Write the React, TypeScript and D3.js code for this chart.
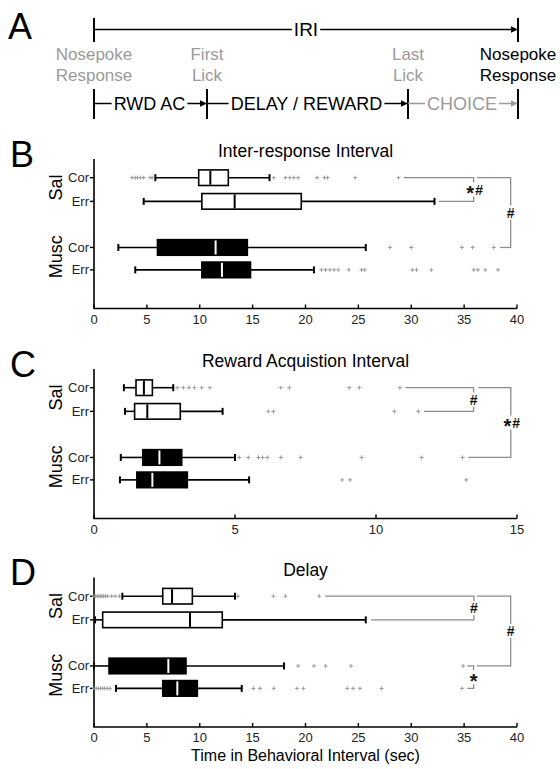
import React from "react";
import * as d3 from "d3";

const W = 560;
const H = 769;
const FONT = "'Liberation Sans', Arial, sans-serif";
const GRAY = "#9a9a9a";

// timeline (panel A)
const eventTop = ["Nosepoke", "First", "Last", "Nosepoke"];
const eventBottom = ["Response", "Lick", "Lick", "Response"];
const eventColor = [GRAY, GRAY, GRAY, "#000"];
const eventFrac = [0, 0.2665, 0.7406, 1];
const segLabels = ["RWD AC", "DELAY / REWARD", "CHOICE"];
const segColor = ["#000", "#000", GRAY];

// boxplot rows
const rowNames = ["Cor", "Err", "Cor", "Err"];
const groupNames = ["Sal", "Musc"];
const groupRows = [[0, 1], [2, 3]];
const rowPos = [0.75, 1.7, 3.55, 4.45];
const rowFill = ["white", "white", "black", "black"];

// [low whisker, q1, median, q3, high whisker]
const iriBoxes = [
  [5.8, 9.9, 11.0, 12.7, 16.6],
  [4.7, 10.2, 13.3, 19.6, 32.2],
  [2.3, 6.0, 11.5, 14.5, 25.7],
  [3.9, 10.2, 12.1, 14.8, 20.8],
];
const iriOutliers = [
  [3.6, 3.9, 4.1, 4.4, 4.7, 5.3, 5.5, 17.0, 18.1, 18.5, 18.9, 19.3, 21.1, 21.8, 22.1, 24.7, 28.8],
  [],
  [28.0, 30.0, 34.8, 35.8, 37.8],
  [21.5, 21.9, 22.3, 22.7, 23.1, 24.1, 25.3, 25.6, 30.1, 30.5, 31.9, 35.9, 36.3, 37.0, 38.2],
];
const iriBrackets = [
  { a: 0, b: 1, xa: 29.3, xb: 32.6, xv: 35.9, label: "*#" },
  { a: 0, b: 2, xa: 36.2, xb: 38.4, xv: 39.4, label: "#" },
];

const raiBoxes = [
  [1.06, 1.49, 1.77, 2.07, 2.81],
  [1.1, 1.44, 1.89, 3.06, 4.56],
  [0.95, 1.73, 2.32, 3.11, 5.0],
  [0.92, 1.52, 2.07, 3.31, 5.5],
];
const raiOutliers = [
  [2.95, 3.17, 3.37, 3.56, 3.82, 4.11, 6.62, 6.93, 9.05, 9.41, 10.85],
  [6.18, 6.36, 10.65, 11.5],
  [5.15, 5.47, 5.83, 5.98, 6.15, 6.63, 7.33, 9.49, 11.62, 13.07],
  [8.8, 9.08, 13.2],
];
const raiBrackets = [
  { a: 0, b: 1, xa: 11.05, xb: 11.7, xv: 13.46, label: "#" },
  { a: 0, b: 2, xa: 13.63, xb: 13.27, xv: 14.78, label: "*#" },
];

const delayBoxes = [
  [2.68, 6.5, 7.38, 9.3, 13.33],
  [0.1, 0.82, 9.08, 12.13, 25.7],
  [0.0, 1.42, 7.03, 8.7, 17.97],
  [2.08, 6.5, 7.88, 9.77, 13.97],
];
const delayOutliers = [
  [0.0, 0.15, 0.3, 0.45, 0.6, 0.75, 0.9, 1.1, 1.3, 1.67, 2.0, 2.4, 13.6, 16.96, 18.1, 21.3],
  [],
  [19.3, 20.8, 21.9, 24.3, 34.9],
  [0.0, 0.2, 0.4, 0.6, 0.8, 1.0, 1.25, 1.5, 15.07, 15.7, 17.0, 19.2, 19.8, 23.95, 24.5, 25.15, 27.2, 34.8],
];
const delayBrackets = [
  { a: 0, b: 1, xa: 21.85, xb: 26.2, xv: 35.93, label: "#" },
  { a: 0, b: 2, xa: 36.2, xb: 36.2, xv: 39.4, label: "#" },
  { a: 2, b: 3, xa: 35.3, xb: 35.3, xv: 35.9, label: "*" },
];

const panels = [
  { letter: "B", title: "Inter-response Interval", top: 159, max: 40, boxes: iriBoxes, outliers: iriOutliers, brackets: iriBrackets, xlabel: "" },
  { letter: "C", title: "Reward Acquistion Interval", top: 369, max: 15, boxes: raiBoxes, outliers: raiOutliers, brackets: raiBrackets, xlabel: "" },
  { letter: "D", title: "Delay", top: 577.5, max: 40, boxes: delayBoxes, outliers: delayOutliers, brackets: delayBrackets, xlabel: "Time in Behavioral Interval (sec)" },
];

const arrow = (g, tip, y, color) =>
  g.append("path")
    .attr("d", `M${tip},${y}L${tip - 7},${y - 3.3}L${tip - 7},${y + 3.3}Z`)
    .attr("fill", color);

function hline(g, x1, x2, y, color, w = 1.5) {
  g.append("line").attr("x1", x1).attr("x2", x2).attr("y1", y).attr("y2", y)
    .attr("stroke", color).attr("stroke-width", w);
}
function vline(g, x, y1, y2, color, w = 1.5) {
  g.append("line").attr("x1", x).attr("x2", x).attr("y1", y1).attr("y2", y2)
    .attr("stroke", color).attr("stroke-width", w);
}

function drawTimeline(svg) {
  const x = d3.scaleLinear().domain([0, 1]).range([94, 518]);
  const g = svg.append("g").attr("font-family", FONT);

  g.append("text").attr("x", 8).attr("y", 39).attr("font-size", 36).text("A");

  // IRI row
  const yT = 29.5;
  vline(g, x(0), 18, 42, "#000", 2);
  vline(g, x(1), 18, 42, "#000", 2);
  const iri = g.append("text").attr("x", x(0.5)).attr("y", 36)
    .attr("text-anchor", "middle").attr("font-size", 19).text("IRI");
  const iw = iri.node().getComputedTextLength();
  hline(g, x(0), x(0.5) - iw / 2 - 2, yT, "#000");
  hline(g, x(0.5) + iw / 2 + 2, x(1) - 6, yT, "#000");
  arrow(g, x(1), yT, "#000");

  // event labels
  eventFrac.forEach((f, i) => {
    g.append("text").attr("x", x(f)).attr("y", 60).attr("text-anchor", "middle")
      .attr("font-size", 17).attr("fill", eventColor[i]).text(eventTop[i]);
    g.append("text").attr("x", x(f)).attr("y", 81).attr("text-anchor", "middle")
      .attr("font-size", 17).attr("fill", eventColor[i]).text(eventBottom[i]);
  });

  // segment row
  const yB = 103.5;
  eventFrac.forEach((f) => vline(g, x(f), 89, 119, "#000", 2));
  segLabels.forEach((lab, i) => {
    const x0 = x(eventFrac[i]);
    const x1 = x(eventFrac[i + 1]);
    const c = segColor[i];
    const mid = (x0 + x1) / 2 - 1;
    const t = g.append("text").attr("x", mid).attr("y", 110)
      .attr("text-anchor", "middle").attr("font-size", 18).attr("fill", c).text(lab);
    const tw = t.node().getComputedTextLength();
    hline(g, x0, mid - tw / 2 - 2, yB, c);
    hline(g, mid + tw / 2 + 2, x1 - 6, yB, c);
    arrow(g, x1, yB, c);
  });
}

function drawPanel(svg, p) {
  const left = 94;
  const right = 517;
  const bottom = p.top + 149.5;
  const x = d3.scaleLinear().domain([0, p.max]).range([left, right]);
  const y = d3.scaleLinear().domain([0, 6]).range([p.top, bottom]);
  const g = svg.append("g").attr("font-family", FONT);

  g.append("text").attr("x", 10).attr("y", p.top + 7.5).attr("font-size", 36).text(p.letter);
  g.append("text").attr("x", (left + right) / 2).attr("y", p.top - 2)
    .attr("text-anchor", "middle").attr("font-size", 17.5).text(p.title);

  // axes
  g.append("path").attr("d", `M${left},${p.top}V${bottom}H${right}`)
    .attr("fill", "none").attr("stroke", "#000").attr("stroke-width", 1.6);
  x.ticks(p.max / 5).forEach((t) => {
    vline(g, x(t), bottom, bottom - 4, "#000", 1.4);
    g.append("text").attr("x", x(t)).attr("y", bottom + 15).attr("text-anchor", "middle")
      .attr("font-size", 13).attr("fill", "#222").text(t);
  });
  if (p.xlabel) {
    g.append("text").attr("x", (left + right) / 2).attr("y", bottom + 34)
      .attr("text-anchor", "middle").attr("font-size", 16).text(p.xlabel);
  }

  rowPos.forEach((r, i) => {
    hline(g, left - 4, left, y(r), "#000", 1.4);
    g.append("text").attr("x", left - 5).attr("y", y(r) + 4.5).attr("text-anchor", "end")
      .attr("font-size", 13).attr("fill", "#222").text(rowNames[i]);
  });
  groupNames.forEach((name, gi) => {
    const cy = d3.mean(groupRows[gi], (r) => y(rowPos[r])) - 2;
    g.append("text").attr("transform", `translate(62,${cy}) rotate(-90)`)
      .attr("text-anchor", "middle").attr("font-size", 18).text(name);
  });

  // outliers
  p.outliers.forEach((vals, i) => {
    const yy = y(rowPos[i]);
    vals.forEach((v) => {
      g.append("path")
        .attr("d", `M${x(v) - 2},${yy}H${x(v) + 2}M${x(v)},${yy - 2}V${yy + 2}`)
        .attr("stroke", GRAY).attr("stroke-width", 1).attr("fill", "none");
    });
  });

  // boxes
  const hh = 7.8;
  p.boxes.forEach((b, i) => {
    const [lo, q1, med, q3, hi] = b;
    const yy = y(rowPos[i]);
    hline(g, x(lo), x(q1), yy, "#000", 1.6);
    hline(g, x(q3), x(hi), yy, "#000", 1.6);
    vline(g, x(lo), yy - 3.5, yy + 3.5, "#000", 2);
    vline(g, x(hi), yy - 3.5, yy + 3.5, "#000", 2);
    g.append("rect").attr("x", x(q1)).attr("y", yy - hh).attr("width", x(q3) - x(q1))
      .attr("height", hh * 2).attr("fill", rowFill[i]).attr("stroke", "#000").attr("stroke-width", 1.6);
    vline(g, x(med), yy - hh + 0.8, yy + hh - 0.8, rowFill[i] === "black" ? "#fff" : "#000", 2);
  });

  // significance brackets
  const bc = "#8c8c8c";
  p.brackets.forEach((br) => {
    const ya = y(rowPos[br.a]);
    const yb = y(rowPos[br.b]);
    const xv = x(br.xv);
    const mid = (ya + yb) / 2;
    hline(g, x(br.xa), xv, ya, bc, 1.3);
    hline(g, x(br.xb), xv, yb, bc, 1.3);
    vline(g, xv, ya - 0.65, mid - 7, bc, 1.3);
    vline(g, xv, mid + 7, yb + 0.65, bc, 1.3);
    if (br.label.includes("*")) {
      g.append("text").attr("x", br.label === "*" ? xv : xv + 0.5).attr("y", mid + 10.5)
        .attr("text-anchor", br.label === "*" ? "middle" : "end")
        .attr("font-size", 20).attr("font-weight", "bold").attr("fill", "#111").text("*");
    }
    if (br.label.includes("#")) {
      g.append("text").attr("x", br.label === "#" ? xv : xv + 1.5).attr("y", mid + 5)
        .attr("text-anchor", br.label === "#" ? "middle" : "start")
        .attr("font-size", 14).attr("font-weight", "bold").attr("fill", "#111").text("#");
    }
  });
}

export default function App() {
  const ref = React.useRef<SVGSVGElement>(null);
  React.useEffect(() => {
    const svg = d3.select(ref.current);
    svg.selectAll("*").remove();
    svg.append("rect").attr("width", W).attr("height", H).attr("fill", "#fff");
    drawTimeline(svg);
    panels.forEach((p) => drawPanel(svg, p));
  }, []);
  return (
    <svg
      ref={ref}
      width={W}
      height={H}
      style={{ position: "absolute", left: 0, top: 0, display: "block" }}
    />
  );
}
